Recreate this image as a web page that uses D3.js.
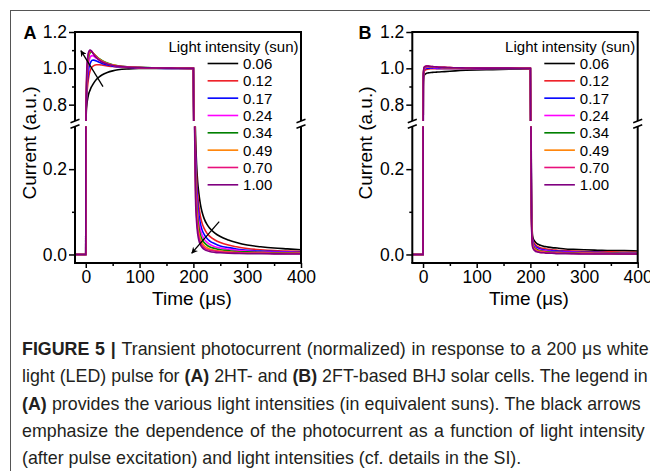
<!DOCTYPE html>
<html><head><meta charset="utf-8">
<script src="https://cdn.jsdelivr.net/npm/d3@7"></script>
<style>body{margin:0;background:#fff}svg{display:block}text{font-family:"Liberation Sans",Arial,sans-serif}</style>
</head><body><svg id="c" width="650" height="471"></svg>
<script>
// ---------- DATA ----------
const intensities = ["0.06","0.12","0.17","0.24","0.34","0.49","0.70","1.00"];
const seriesColors = ["#000000","#ee1c24","#0000ff","#ff00ff","#008000","#ff8000","#e8107c","#800080"];
const preTimes = [-20, 0];
const riseTimes = [0.5, 1, 2, 4, 6, 8, 10, 12, 15, 20, 25, 30, 40, 50, 60, 80, 100, 130, 160, 199.5, 200];
const decayTimes = [201, 202, 204, 206, 208, 210, 213, 216, 220, 225, 230, 240, 250, 265, 280, 300, 325, 350, 375, 400];
const preValues = [0, 0];

const riseA = [
  [0.70,0.76,0.80,0.84,0.865,0.88,0.895,0.905,0.92,0.94,0.953,0.963,0.977,0.986,0.992,0.997,0.999,1.0,1.0,1.0,1.0],
  [0.72,0.78,0.85,0.92,0.96,0.985,1.0,1.008,1.015,1.02,1.02,1.018,1.013,1.01,1.007,1.004,1.002,1.001,1.0,1.0,1.0],
  [0.73,0.80,0.88,0.96,1.005,1.025,1.038,1.044,1.045,1.04,1.033,1.027,1.018,1.012,1.009,1.005,1.003,1.001,1.0,1.0,1.0],
  [0.74,0.82,0.91,1.0,1.04,1.06,1.068,1.07,1.066,1.055,1.045,1.037,1.025,1.017,1.012,1.007,1.004,1.002,1.001,1.0,1.0],
  [0.75,0.84,0.94,1.03,1.07,1.085,1.09,1.088,1.08,1.066,1.053,1.043,1.029,1.02,1.014,1.008,1.005,1.002,1.001,1.0,1.0],
  [0.76,0.85,0.96,1.05,1.08,1.092,1.094,1.09,1.08,1.064,1.051,1.041,1.027,1.019,1.013,1.007,1.004,1.002,1.001,1.0,1.0],
  [0.77,0.86,0.98,1.06,1.09,1.098,1.097,1.09,1.078,1.061,1.048,1.038,1.025,1.017,1.012,1.007,1.004,1.002,1.001,1.0,1.0],
  [0.78,0.87,1.0,1.07,1.095,1.10,1.097,1.089,1.075,1.058,1.045,1.035,1.023,1.016,1.011,1.006,1.004,1.002,1.001,1.0,1.0]
];
const decayA = [
  [0.60,0.42,0.28,0.21,0.17,0.145,0.118,0.10,0.084,0.071,0.062,0.050,0.042,0.034,0.028,0.022,0.018,0.015,0.013,0.011],
  [0.58,0.40,0.25,0.18,0.14,0.115,0.09,0.074,0.061,0.050,0.043,0.034,0.028,0.022,0.018,0.014,0.011,0.009,0.008,0.007],
  [0.56,0.38,0.23,0.16,0.12,0.095,0.072,0.058,0.047,0.038,0.032,0.025,0.020,0.016,0.013,0.010,0.008,0.007,0.006,0.005],
  [0.55,0.37,0.21,0.14,0.10,0.078,0.058,0.046,0.036,0.029,0.024,0.018,0.015,0.012,0.010,0.008,0.006,0.005,0.005,0.004],
  [0.54,0.36,0.19,0.12,0.085,0.064,0.046,0.036,0.028,0.022,0.018,0.014,0.011,0.009,0.007,0.006,0.005,0.004,0.004,0.003],
  [0.53,0.35,0.17,0.105,0.072,0.053,0.037,0.028,0.021,0.016,0.013,0.010,0.008,0.006,0.005,0.004,0.004,0.003,0.003,0.003],
  [0.52,0.34,0.15,0.09,0.06,0.043,0.030,0.022,0.016,0.012,0.010,0.008,0.006,0.005,0.004,0.003,0.003,0.002,0.002,0.002],
  [0.50,0.32,0.13,0.075,0.048,0.034,0.023,0.017,0.012,0.009,0.007,0.005,0.004,0.003,0.0025,0.002,0.002,0.0015,0.001,0.001]
];
const riseB = [
  [0.90,0.94,0.96,0.968,0.972,0.974,0.975,0.976,0.977,0.978,0.979,0.98,0.982,0.984,0.986,0.989,0.991,0.993,0.995,0.996,0.996],
  [0.92,0.96,0.98,0.99,0.993,0.995,0.996,0.997,0.998,0.998,0.998,0.998,0.998,0.998,0.998,0.998,0.998,0.998,0.998,0.998,0.998],
  [0.93,0.97,0.99,0.998,1.0,1.001,1.001,1.001,1.001,1.001,1.0,1.0,1.0,1.0,1.0,1.0,1.0,0.999,0.999,0.999,0.999],
  [0.93,0.975,0.995,1.003,1.005,1.006,1.006,1.006,1.005,1.004,1.003,1.003,1.002,1.002,1.001,1.001,1.0,1.0,1.0,1.0,1.0],
  [0.94,0.98,1.0,1.007,1.009,1.01,1.01,1.009,1.008,1.007,1.006,1.005,1.004,1.003,1.002,1.001,1.001,1.0,1.0,1.0,1.0],
  [0.94,0.98,1.002,1.009,1.011,1.011,1.011,1.010,1.009,1.008,1.007,1.006,1.005,1.004,1.003,1.002,1.002,1.001,1.001,1.0,1.0],
  [0.95,0.985,1.004,1.01,1.012,1.012,1.012,1.011,1.010,1.009,1.008,1.007,1.005,1.004,1.003,1.002,1.002,1.001,1.001,1.0,1.0],
  [0.95,0.985,1.005,1.011,1.013,1.013,1.012,1.011,1.010,1.009,1.008,1.006,1.005,1.004,1.003,1.002,1.001,1.001,1.001,1.0,1.0]
];
const decayB = [
  [0.40,0.15,0.045,0.035,0.031,0.028,0.025,0.023,0.021,0.019,0.018,0.016,0.015,0.013,0.012,0.011,0.010,0.009,0.009,0.008],
  [0.38,0.13,0.038,0.029,0.025,0.022,0.019,0.017,0.015,0.014,0.013,0.011,0.010,0.009,0.008,0.007,0.006,0.006,0.005,0.005],
  [0.37,0.12,0.034,0.025,0.021,0.018,0.016,0.014,0.012,0.011,0.010,0.009,0.008,0.007,0.006,0.005,0.005,0.004,0.004,0.004],
  [0.36,0.11,0.030,0.022,0.018,0.015,0.013,0.011,0.010,0.009,0.008,0.007,0.006,0.005,0.005,0.004,0.004,0.003,0.003,0.003],
  [0.35,0.10,0.027,0.019,0.015,0.013,0.011,0.009,0.008,0.007,0.006,0.005,0.005,0.004,0.004,0.003,0.003,0.003,0.002,0.002],
  [0.34,0.09,0.024,0.016,0.013,0.011,0.009,0.008,0.007,0.006,0.005,0.004,0.004,0.003,0.003,0.003,0.002,0.002,0.002,0.002],
  [0.33,0.085,0.021,0.014,0.011,0.009,0.007,0.006,0.005,0.005,0.004,0.004,0.003,0.003,0.002,0.002,0.002,0.002,0.001,0.001],
  [0.32,0.08,0.018,0.012,0.009,0.007,0.006,0.005,0.004,0.004,0.003,0.003,0.002,0.002,0.002,0.001,0.001,0.001,0.001,0.001]
];
const xTicks = [0, 100, 200, 300, 400];
const xMinorTicks = [50, 150, 250, 350];
const yUpperTicks = [0.8, 1.0, 1.2];
const yUpperMinor = [0.9, 1.1];
const yLowerTicks = [0.0, 0.2];
const yLowerMinor = [0.1];
const arrowsA = [
  {seg: "upper", t0: 32, v0: 0.899, t1: -9, v1: 1.097},
  {seg: "lower", t0: 248, v0: 0.077, t1: 197, v1: 0.003}
];
const captionLines = [
  [["FIGURE 5 | ", true], ["Transient photocurrent (normalized) in response to a 200 \u03bcs white", false]],
  [["light (LED) pulse for ", false], ["(A)", true], [" 2HT- and ", false], ["(B)", true], [" 2FT-based BHJ solar cells. The legend in", false]],
  [["(A)", true], [" provides the various light intensities (in equivalent suns). The black arrows", false]],
  [["emphasize the dependence of the photocurrent as a function of light intensity", false]],
  [["(after pulse excitation) and light intensities (cf. details in the SI).", false]]
];
// justified line widths (last line: natural width)
const captionWidths = [627, 626, 619, 623, null];

// ---------- DRAW ----------
const svg = d3.select("#c");
const times = preTimes.concat(riseTimes, decayTimes);

svg.append("line").attr("x1", 10).attr("x2", 650).attr("y1", 10.5).attr("y2", 10.5).attr("stroke", "#555").attr("stroke-width", 1);
svg.append("line").attr("x1", 10.5).attr("x2", 10.5).attr("y1", 10).attr("y2", 471).attr("stroke", "#555").attr("stroke-width", 1);

const defs = svg.append("defs");
defs.append("marker").attr("id", "arr").attr("viewBox", "0 0 10 10").attr("refX", 9).attr("refY", 5)
  .attr("markerWidth", 5).attr("markerHeight", 5).attr("orient", "auto")
  .append("path").attr("d", "M0,0 L10,5 L0,10 L3,5 Z").attr("fill", "#000");

const yTop = 32, yBreakU = 121, yBreakL = 126.5, yBot = 263;

function drawPanel(cfg) {
  const g = svg.append("g");
  const x = d3.scaleLinear().domain([-20, 400]).range([cfg.x0, cfg.x1]);
  const yU = d3.scaleLinear().domain([0.71, 1.2]).range([yBreakU, yTop]);
  const yL = d3.scaleLinear().domain([-0.02, 0.3]).range([yBot, yBreakL]);

  defs.append("clipPath").attr("id", "cu" + cfg.id).append("rect")
    .attr("x", cfg.x0).attr("y", yTop).attr("width", cfg.x1 - cfg.x0).attr("height", yBreakU - yTop);
  defs.append("clipPath").attr("id", "cl" + cfg.id).append("rect")
    .attr("x", cfg.x0).attr("y", yBreakL).attr("width", cfg.x1 - cfg.x0).attr("height", yBot - yBreakL);

  const series = cfg.rise.map((r, i) => preValues.concat(r, cfg.decay[i]).map((v, j) => [times[j], v]));
  const lineU = d3.line().x(d => x(d[0])).y(d => yU(d[1])).curve(d3.curveMonotoneX);
  const lineL = d3.line().x(d => x(d[0])).y(d => yL(d[1])).curve(d3.curveMonotoneX);

  const gu = g.append("g").attr("clip-path", `url(#cu${cfg.id})`);
  const gl = g.append("g").attr("clip-path", `url(#cl${cfg.id})`);
  series.forEach((s, i) => {
    gu.append("path").attr("d", lineU(s)).attr("fill", "none").attr("stroke", seriesColors[i]).attr("stroke-width", 1.6);
    gl.append("path").attr("d", lineL(s)).attr("fill", "none").attr("stroke", seriesColors[i]).attr("stroke-width", 1.6);
  });

  const tickStyle = sel => {
    sel.select(".domain").remove();
    sel.selectAll(".tick line").attr("stroke", "#000").attr("stroke-width", 1.5);
    sel.selectAll(".tick text").attr("font-size", 17.5).attr("fill", "#000").style("font-family", '"Liberation Sans",Arial,sans-serif');
  };
  g.append("g").attr("transform", `translate(${cfg.x0},0)`)
    .call(d3.axisLeft(yU).tickValues(yUpperTicks).tickFormat(d3.format(".1f")).tickSize(6).tickPadding(2)).call(tickStyle);
  g.append("g").attr("transform", `translate(${cfg.x0},0)`)
    .call(d3.axisLeft(yU).tickValues(yUpperMinor).tickFormat("").tickSize(3)).call(tickStyle);
  g.append("g").attr("transform", `translate(${cfg.x0},0)`)
    .call(d3.axisLeft(yL).tickValues(yLowerTicks).tickFormat(d3.format(".1f")).tickSize(6).tickPadding(2)).call(tickStyle);
  g.append("g").attr("transform", `translate(${cfg.x0},0)`)
    .call(d3.axisLeft(yL).tickValues(yLowerMinor).tickFormat("").tickSize(3)).call(tickStyle);
  g.append("g").attr("transform", `translate(0,${yBot})`)
    .call(d3.axisBottom(x).tickValues(xTicks).tickFormat(d3.format("d")).tickSize(5).tickPadding(3)).call(tickStyle);
  g.append("g").attr("transform", `translate(0,${yBot})`)
    .call(d3.axisBottom(x).tickValues(xMinorTicks).tickFormat("").tickSize(3)).call(tickStyle);

  const fr = g.append("g").attr("stroke", "#000").attr("stroke-width", 2).attr("fill", "none");
  fr.append("line").attr("x1", cfg.x0 - 1).attr("x2", cfg.x1 + 1).attr("y1", yTop).attr("y2", yTop);
  fr.append("line").attr("x1", cfg.x0 - 1).attr("x2", cfg.x1 + 1).attr("y1", yBot).attr("y2", yBot);
  [cfg.x0, cfg.x1].forEach(xx => {
    fr.append("line").attr("x1", xx).attr("x2", xx).attr("y1", yTop).attr("y2", yBreakU);
    fr.append("line").attr("x1", xx).attr("x2", xx).attr("y1", yBreakL).attr("y2", yBot);
    [yBreakU, yBreakL].forEach(yy => {
      fr.append("line").attr("x1", xx - 4.5).attr("x2", xx + 4.5).attr("y1", yy + 1.8).attr("y2", yy - 1.8).attr("stroke-width", 1.5);
    });
  });

  g.append("text").attr("x", cfg.ttlX).attr("y", 305).attr("text-anchor", "middle").attr("font-size", 19).text("Time (\u03bcs)");
  g.append("text").attr("transform", `translate(${cfg.ytX},143) rotate(-90)`).attr("text-anchor", "middle").attr("font-size", 19).text("Current (a.u.)");
  g.append("text").attr("x", cfg.letX).attr("y", 38.5).attr("font-size", 18).attr("font-weight", "bold").text(cfg.letter);

  const lx = cfg.x1 - 93.4;
  g.append("text").attr("x", cfg.x1 - 2.5).attr("y", 52).attr("text-anchor", "end").attr("font-size", 15).text("Light intensity (sun)");
  intensities.forEach((lab, i) => {
    const yy = 63.5 + i * 17.33;
    g.append("line").attr("x1", lx).attr("x2", lx + 30.6).attr("y1", yy).attr("y2", yy).attr("stroke", seriesColors[i]).attr("stroke-width", 1.6);
    g.append("text").attr("x", lx + 35.5).attr("y", yy).attr("dy", "0.36em").attr("font-size", 15).text(lab);
  });

  (cfg.arrows || []).forEach(a => {
    const ys = a.seg === "upper" ? yU : yL;
    g.append("line").attr("x1", x(a.t0)).attr("y1", ys(a.v0)).attr("x2", x(a.t1)).attr("y2", ys(a.v1))
      .attr("stroke", "#000").attr("stroke-width", 1.3).attr("marker-end", "url(#arr)");
  });
}

drawPanel({id: "A", x0: 75, x1: 301, rise: riseA, decay: decayA, letter: "A", letX: 23.5, ttlX: 192, ytX: 35.5, arrows: arrowsA});
drawPanel({id: "B", x0: 412.3, x1: 637.7, rise: riseB, decay: decayB, letter: "B", letX: 358.5, ttlX: 529, ytX: 372});

// caption: one common horizontal scale, lines 1-4 justified via word spacing
const capBase = [355.2, 382.4, 409.6, 436.8, 464];
const capNodes = captionLines.map(segs => {
  const t = svg.append("text").attr("font-size", 18).attr("fill", "#231f20").attr("x", 0).attr("y", 0);
  segs.forEach(([s, b]) => t.append("tspan").attr("font-weight", b ? "bold" : "normal").text(s));
  return t;
});
const naturalW = capNodes.map(t => t.node().getComputedTextLength());
const k = d3.min(captionWidths.map((w, i) => w ? w / naturalW[i] : Infinity));
capNodes.forEach((t, i) => {
  if (captionWidths[i]) {
    const nSpaces = captionLines[i].map(s => s[0]).join("").split(" ").length - 1;
    const ws = (captionWidths[i] / k - naturalW[i]) / nSpaces;
    t.style("word-spacing", ws + "px");
  }
  t.attr("transform", `translate(22,${capBase[i]}) scale(${k},1)`);
});
</script></body></html>
